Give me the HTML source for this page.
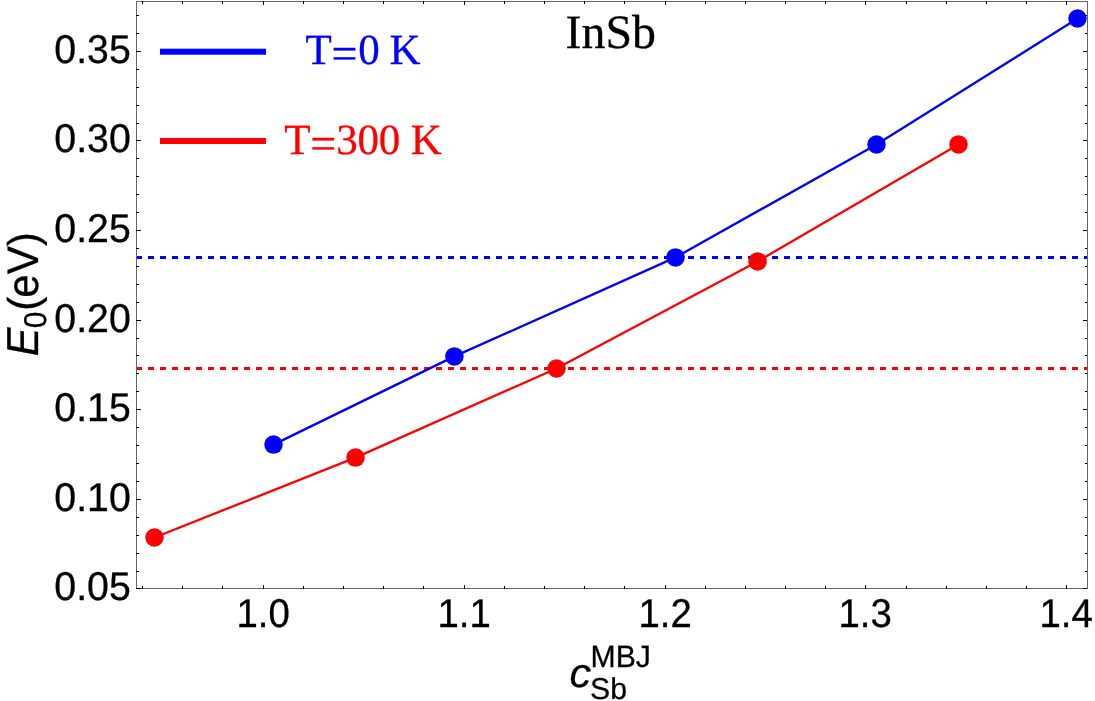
<!DOCTYPE html>
<html lang="en"><head><meta charset="utf-8"><title>InSb E0 vs c MBJ</title>
<style>html,body{margin:0;padding:0;background:#fff}body{width:1095px;height:701px;overflow:hidden}svg{display:block}text{text-rendering:geometricPrecision}.tk{font-family:"Liberation Sans",Arial,sans-serif;font-size:39.4px;fill:#000;stroke:#000;stroke-width:.3px}.lb{font-family:"Liberation Sans",Arial,sans-serif;font-size:43px;fill:#000;stroke:#000;stroke-width:.3px}.sc{font-family:"Liberation Sans",Arial,sans-serif;font-size:30.5px;fill:#000;stroke:#000;stroke-width:.25px}.lg{font-family:"Liberation Serif","Times New Roman",serif;font-size:43px}.ti{font-family:"Liberation Serif","Times New Roman",serif;font-size:47.8px;fill:#000;stroke:#000;stroke-width:.3px}</style></head><body>
<svg width="1095" height="701" viewBox="0 0 1095 701">
<rect width="1095" height="701" fill="#fff"/>
<g fill="none" stroke-width="3" stroke-dasharray="6 6">
<path d="M136 257.5H1088" stroke="#0000ff"/>
<path d="M136 368.5H1088" stroke="#ff0000"/>
</g>
<g fill="none" stroke-width="2.3" stroke-linejoin="round">
<polyline points="273.5,444.6 454.4,356.4 675.5,257.4 876.5,144.5 1077.5,18.5" stroke="#0000ff"/>
<polyline points="154.5,537.5 355.5,457.6 556.5,368.5 757.6,261.4 958.5,144.4" stroke="#ff0000"/>
</g>
<g fill="#0000ff"><circle cx="273.5" cy="444.6" r="9.25"/><circle cx="454.4" cy="356.4" r="9.25"/><circle cx="675.5" cy="257.4" r="9.25"/><circle cx="876.5" cy="144.5" r="9.25"/><circle cx="1077.5" cy="18.5" r="9.25"/></g>
<g fill="#ff0000"><circle cx="154.5" cy="537.5" r="9.25"/><circle cx="355.5" cy="457.6" r="9.25"/><circle cx="556.5" cy="368.5" r="9.25"/><circle cx="757.6" cy="261.4" r="9.25"/><circle cx="958.5" cy="144.4" r="9.25"/></g>
<g fill="#666666" shape-rendering="crispEdges">
<rect x="136" y="1" width="952" height="1"/>
<rect x="136" y="588" width="952" height="1"/>
<rect x="136" y="1" width="1" height="588"/>
<rect x="1087" y="1" width="1" height="588"/>
</g>
<g fill="#000" shape-rendering="crispEdges">
<rect x="142" y="1" width="1" height="3"/>
<rect x="142" y="586" width="1" height="3"/>
<rect x="182" y="1" width="1" height="3"/>
<rect x="182" y="586" width="1" height="3"/>
<rect x="222" y="1" width="1" height="3"/>
<rect x="222" y="586" width="1" height="3"/>
<rect x="263" y="1" width="1" height="4"/>
<rect x="263" y="585" width="1" height="4"/>
<rect x="303" y="1" width="1" height="3"/>
<rect x="303" y="586" width="1" height="3"/>
<rect x="343" y="1" width="1" height="3"/>
<rect x="343" y="586" width="1" height="3"/>
<rect x="383" y="1" width="1" height="3"/>
<rect x="383" y="586" width="1" height="3"/>
<rect x="423" y="1" width="1" height="3"/>
<rect x="423" y="586" width="1" height="3"/>
<rect x="464" y="1" width="1" height="4"/>
<rect x="464" y="585" width="1" height="4"/>
<rect x="504" y="1" width="1" height="3"/>
<rect x="504" y="586" width="1" height="3"/>
<rect x="544" y="1" width="1" height="3"/>
<rect x="544" y="586" width="1" height="3"/>
<rect x="584" y="1" width="1" height="3"/>
<rect x="584" y="586" width="1" height="3"/>
<rect x="624" y="1" width="1" height="3"/>
<rect x="624" y="586" width="1" height="3"/>
<rect x="665" y="1" width="1" height="4"/>
<rect x="665" y="585" width="1" height="4"/>
<rect x="705" y="1" width="1" height="3"/>
<rect x="705" y="586" width="1" height="3"/>
<rect x="745" y="1" width="1" height="3"/>
<rect x="745" y="586" width="1" height="3"/>
<rect x="785" y="1" width="1" height="3"/>
<rect x="785" y="586" width="1" height="3"/>
<rect x="825" y="1" width="1" height="3"/>
<rect x="825" y="586" width="1" height="3"/>
<rect x="865" y="1" width="1" height="4"/>
<rect x="865" y="585" width="1" height="4"/>
<rect x="906" y="1" width="1" height="3"/>
<rect x="906" y="586" width="1" height="3"/>
<rect x="946" y="1" width="1" height="3"/>
<rect x="946" y="586" width="1" height="3"/>
<rect x="986" y="1" width="1" height="3"/>
<rect x="986" y="586" width="1" height="3"/>
<rect x="1026" y="1" width="1" height="3"/>
<rect x="1026" y="586" width="1" height="3"/>
<rect x="1066" y="1" width="1" height="4"/>
<rect x="1066" y="585" width="1" height="4"/>
<rect x="136" y="588" width="5" height="1"/>
<rect x="1083" y="588" width="4" height="1"/>
<rect x="136" y="571" width="3" height="1"/>
<rect x="1085" y="571" width="2" height="1"/>
<rect x="136" y="553" width="3" height="1"/>
<rect x="1085" y="553" width="2" height="1"/>
<rect x="136" y="535" width="3" height="1"/>
<rect x="1085" y="535" width="2" height="1"/>
<rect x="136" y="517" width="3" height="1"/>
<rect x="1085" y="517" width="2" height="1"/>
<rect x="136" y="499" width="5" height="1"/>
<rect x="1083" y="499" width="4" height="1"/>
<rect x="136" y="481" width="3" height="1"/>
<rect x="1085" y="481" width="2" height="1"/>
<rect x="136" y="463" width="3" height="1"/>
<rect x="1085" y="463" width="2" height="1"/>
<rect x="136" y="445" width="3" height="1"/>
<rect x="1085" y="445" width="2" height="1"/>
<rect x="136" y="427" width="3" height="1"/>
<rect x="1085" y="427" width="2" height="1"/>
<rect x="136" y="409" width="5" height="1"/>
<rect x="1083" y="409" width="4" height="1"/>
<rect x="136" y="391" width="3" height="1"/>
<rect x="1085" y="391" width="2" height="1"/>
<rect x="136" y="373" width="3" height="1"/>
<rect x="1085" y="373" width="2" height="1"/>
<rect x="136" y="355" width="3" height="1"/>
<rect x="1085" y="355" width="2" height="1"/>
<rect x="136" y="338" width="3" height="1"/>
<rect x="1085" y="338" width="2" height="1"/>
<rect x="136" y="320" width="5" height="1"/>
<rect x="1083" y="320" width="4" height="1"/>
<rect x="136" y="302" width="3" height="1"/>
<rect x="1085" y="302" width="2" height="1"/>
<rect x="136" y="284" width="3" height="1"/>
<rect x="1085" y="284" width="2" height="1"/>
<rect x="136" y="266" width="3" height="1"/>
<rect x="1085" y="266" width="2" height="1"/>
<rect x="136" y="248" width="3" height="1"/>
<rect x="1085" y="248" width="2" height="1"/>
<rect x="136" y="230" width="5" height="1"/>
<rect x="1083" y="230" width="4" height="1"/>
<rect x="136" y="212" width="3" height="1"/>
<rect x="1085" y="212" width="2" height="1"/>
<rect x="136" y="194" width="3" height="1"/>
<rect x="1085" y="194" width="2" height="1"/>
<rect x="136" y="176" width="3" height="1"/>
<rect x="1085" y="176" width="2" height="1"/>
<rect x="136" y="158" width="3" height="1"/>
<rect x="1085" y="158" width="2" height="1"/>
<rect x="136" y="140" width="5" height="1"/>
<rect x="1083" y="140" width="4" height="1"/>
<rect x="136" y="123" width="3" height="1"/>
<rect x="1085" y="123" width="2" height="1"/>
<rect x="136" y="105" width="3" height="1"/>
<rect x="1085" y="105" width="2" height="1"/>
<rect x="136" y="87" width="3" height="1"/>
<rect x="1085" y="87" width="2" height="1"/>
<rect x="136" y="69" width="3" height="1"/>
<rect x="1085" y="69" width="2" height="1"/>
<rect x="136" y="51" width="5" height="1"/>
<rect x="1083" y="51" width="4" height="1"/>
<rect x="136" y="33" width="3" height="1"/>
<rect x="1085" y="33" width="2" height="1"/>
<rect x="136" y="15" width="3" height="1"/>
<rect x="1085" y="15" width="2" height="1"/>
</g>
<g class="tk" text-anchor="end">
<text transform="translate(130.8 600.2) scale(0.997 1.02)">0.05</text>
<text transform="translate(130.8 511.2) scale(0.997 1.02)">0.10</text>
<text transform="translate(130.8 421.2) scale(0.997 1.02)">0.15</text>
<text transform="translate(130.8 332.2) scale(0.997 1.02)">0.20</text>
<text transform="translate(130.8 242.2) scale(0.997 1.02)">0.25</text>
<text transform="translate(130.8 152.2) scale(0.997 1.02)">0.30</text>
<text transform="translate(130.8 63.2) scale(0.997 1.02)">0.35</text>
</g>
<g class="tk" text-anchor="middle">
<text transform="translate(263.1 627) scale(0.975 1.02)">1.0</text>
<text transform="translate(464.1 627) scale(0.975 1.02)">1.1</text>
<text transform="translate(665.1 627) scale(0.975 1.02)">1.2</text>
<text transform="translate(865.1 627) scale(0.975 1.02)">1.3</text>
<text transform="translate(1066.1 627) scale(0.975 1.02)">1.4</text>
</g>
<rect x="160" y="48.7" width="106" height="6" fill="#0000ff"/>
<rect x="160" y="138" width="106" height="6" fill="#ff0000"/>
<text class="lg" x="305.5" y="64" fill="#0000ff" stroke="#0000ff" stroke-width=".3" xml:space="preserve"><tspan>T</tspan><tspan font-size="46" dx="-0.4" dy="4.8">=</tspan><tspan dx="0.9" dy="-4.8">0</tspan><tspan dx="-0.9"> K</tspan></text>
<text class="lg" x="284.3" y="154" fill="#ff0000" stroke="#ff0000" stroke-width=".3" xml:space="preserve"><tspan>T</tspan><tspan font-size="46" dx="-0.4" dy="4.8">=</tspan><tspan dy="-4.8" letter-spacing="-0.15">300 K</tspan></text>
<text class="ti" x="565.6" y="47.5">InSb</text>
<g transform="translate(38.2 356.2) rotate(-90)">
<text class="lb" font-style="italic" transform="translate(0.00 0.0) scale(1.000 1.040)">E</text>
<text class="sc" transform="translate(27.93 8.0) scale(0.980 1.030)">0</text>
<text class="lb" transform="translate(45.37 0.0) scale(0.980 1.000)">(</text>
<text class="lb" transform="translate(58.49 0.0) scale(0.980 1.025)">eV</text>
<text class="lb" transform="translate(110.02 0.0) scale(0.980 1.000)">)</text>
</g>
<text class="lb" font-style="italic" transform="translate(569.5 687) scale(1 0.95)">c</text>
<text class="sc" transform="translate(590.5 667) scale(0.99 1.015)">MBJ</text>
<text class="sc" transform="translate(590.0 699) scale(0.99 0.99)">Sb</text>
</svg></body></html>
